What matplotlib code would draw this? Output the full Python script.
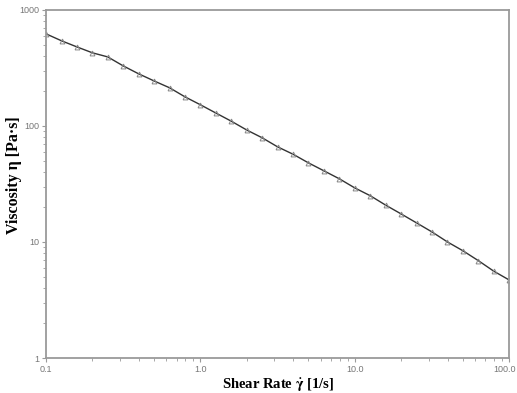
import matplotlib
matplotlib.use("Agg")
import matplotlib.pyplot as plt
import matplotlib.ticker as mticker
import matplotlib.transforms as mtransforms
import numpy as np

# shear rate (1/s) and viscosity (Pa.s)
shear_rate = [0.1, 0.126, 0.158, 0.2, 0.251, 0.316, 0.398, 0.501, 0.631, 0.794,
              1.0, 1.26, 1.58, 2.0, 2.51, 3.16, 3.98, 5.01, 6.31, 7.94,
              10.0, 12.6, 15.8, 20.0, 25.1, 31.6, 39.8, 50.1, 63.1, 79.4,
              100.0]
viscosity = [621, 541, 480, 426, 393, 329, 281, 244, 213, 178,
             152, 129, 110, 92, 79, 66, 57, 48, 41, 35,
             29.2, 25.0, 20.8, 17.4, 14.6, 12.2, 10.0, 8.4, 6.9, 5.6,
             4.7]

x_ticks = [0.1, 1.0, 10.0, 100.0]
x_ticklabels = ["0.1", "1.0", "10.0", "100.0"]
y_ticks = [1, 10, 100, 1000]
y_ticklabels = ["1", "10", "100", "1000"]

grey = "#9a9a9a"
plt.rcParams['mathtext.fontset'] = 'stix'

fig = plt.figure(figsize=(5.17, 3.93), dpi=100)
ax = fig.add_axes([0.089, 0.089, 0.896, 0.886])

ax.plot(shear_rate, viscosity, color="#333333", linewidth=1.0,
        marker="^", markersize=3.5, markerfacecolor="none",
        markeredgecolor="#888888", markeredgewidth=0.7)

ax.set_xscale("log")
ax.set_yscale("log")
ax.set_xlim(0.1, 100)
ax.set_ylim(1, 1000)

ax.set_xticks(x_ticks)
ax.set_xticklabels(x_ticklabels)
ax.set_yticks(y_ticks)
ax.set_yticklabels(y_ticklabels)
ax.xaxis.set_minor_formatter(mticker.NullFormatter())
ax.yaxis.set_minor_formatter(mticker.NullFormatter())

for s in ax.spines.values():
    s.set_color(grey)
    s.set_linewidth(1.3)
ax.tick_params(which="major", length=3, width=0.8, color=grey,
               labelsize=6.5, labelcolor="#777777", pad=2)
ax.tick_params(which="minor", length=2, width=0.6, color=grey)
for lab in ax.get_xticklabels() + ax.get_yticklabels():
    lab.set_family("Liberation Sans")
# keep the last x label inside the figure
last = ax.get_xticklabels()[-1]
last.set_transform(last.get_transform() +
                   mtransforms.ScaledTranslation(-5 / 100, 0, fig.dpi_scale_trans))

ax.set_xlabel(r"Shear Rate $\mathbf{\dot{\gamma}}$ [1/s]", family="Liberation Serif",
              fontweight="bold", fontsize=10.5, labelpad=2)
ax.set_ylabel("Viscosity η [Pa·s]", family="Liberation Serif",
              fontweight="bold", fontsize=11.5)
ax.yaxis.set_label_coords(-0.052, 0.526)

plt.savefig("out.png", dpi=100)
